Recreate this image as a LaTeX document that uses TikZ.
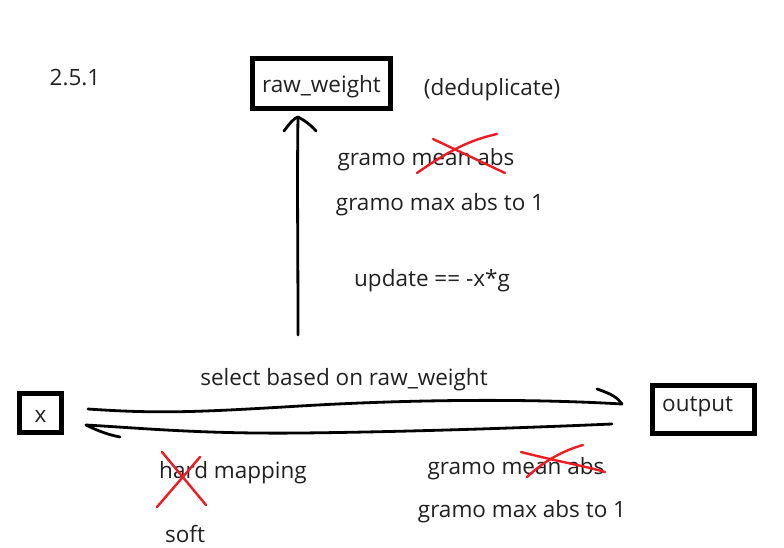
\documentclass[tikz,border=0pt]{standalone}
\usepackage{fontspec}
\setmainfont{Open Sans}
\definecolor{penred}{RGB}{237,28,36}
\begin{document}
\begin{tikzpicture}[x=1pt,y=-1pt,
  lbl/.style={font=\fontsize{22.5}{25}\selectfont, text=black!87, inner sep=0pt, yshift=-3pt},
  bx/.style={draw=black, line width=4.5pt, inner sep=0pt, minimum height=#1},
  pen/.style={line width=2.8pt, line cap=round, line join=round},
  redpen/.style={draw=penred, line width=2.4pt, line cap=round}]
\useasboundingbox[fill=white] (0,0) rectangle (784,547);
% boxes
\node[bx=50pt, minimum width=138pt] (rw) at (321.5,83.5) {};
\node[lbl] (rwt) at (rw.center) {raw\_weight};
\node[bx=39pt, minimum width=42pt] (xb) at (40.5,413) {};
\node[lbl] (xt) at (xb.center) {x};
\node[bx=48pt, minimum width=102pt] (ob) at (703.5,409.5) {};
\node[lbl, anchor=west] (ot) at (662,404) {output};
% texts
\node[lbl] (ver) at (75,75) {2.5.1};
\node[lbl] (dedup) at (492,87) {(deduplicate)};
\node[lbl] (gm1) at (426,157) {gramo mean abs};
\node[lbl] (gx1) at (440,202) {gramo max abs to 1};
\node[lbl] (upd) at (432,278) {update == -x*g};
\node[lbl] (sel) at (344,377) {select based on raw\_weight};
\node[lbl] (hard) at (233,470) {hard mapping};
\node[lbl] (soft) at (185,531) {soft};
\node[lbl] (gm2) at (516,466) {gramo mean abs};
\node[lbl] (gx2) at (522,509) {gramo max abs to 1};
% coordinates
\coordinate (vup0) at (298,335);
\coordinate (vup1) at (298,117);
\coordinate (f0) at (88,409);
\coordinate (f1) at (622,404);
\coordinate (b0) at (612,424);
\coordinate (b1) at (86,425);
% vertical arrow
\draw[pen] (vup0) .. controls (298,250) and (297,180) .. (vup1);
\draw[pen] (284,131) .. controls (290,123) and (294,118) .. (vup1) .. controls (304,120) and (311,125) .. (316,131);
% forward arrow
\draw[pen] (f0) .. controls (160,414) and (200,412) .. (300,406)
  .. controls (400,400) and (520,398) .. (f1);
\draw[pen] (597,389) .. controls (612,394) and (618,398) .. (f1);
% backward arrow
\draw[pen] (b0) .. controls (520,428) and (400,432) .. (300,433)
  .. controls (200,434) and (140,428) .. (b1);
\draw[pen] (b1) .. controls (100,432) and (110,435) .. (120,437);
% red crosses
\draw[redpen] (433,139) -- (505,173);
\draw[redpen] (417,173) .. controls (450,150) and (470,140) .. (497,134);
\draw[redpen] (162,452) -- (206,505);
\draw[redpen] (157,507) -- (200,457);
\draw[redpen] (521,452) .. controls (560,462) and (585,466) .. (605,472);
\draw[redpen] (527,477) .. controls (545,460) and (565,450) .. (583,445);
\end{tikzpicture}
\end{document}
